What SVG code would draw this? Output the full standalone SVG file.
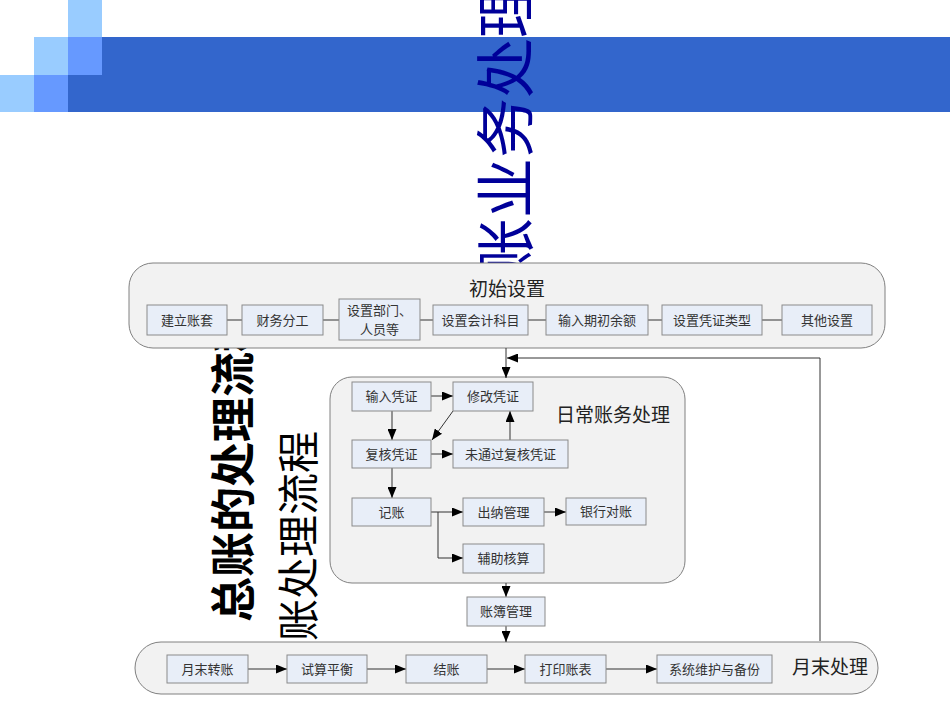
<svg xmlns="http://www.w3.org/2000/svg" width="950" height="713" viewBox="0 0 950 713">
<style>
.cont{fill:#f2f2f2;stroke:#808080;stroke-width:1}
.box{fill:#e8eef8;stroke:#8a8a8a;stroke-width:1}
.lbl{font-family:"Noto Sans CJK SC","Noto Sans",sans-serif;font-size:13px;fill:#333;text-anchor:middle}
.ttl{font-family:"Noto Sans CJK SC","Noto Sans",sans-serif;font-size:19px;fill:#222}
.ln{fill:none;stroke:#333;stroke-width:1}
.arr{fill:none;stroke:#333;stroke-width:1;marker-end:url(#ah)}
</style>
<defs>
<marker id="ah" markerUnits="userSpaceOnUse" markerWidth="12" markerHeight="9" refX="11" refY="4.5" orient="auto">
<path d="M0,0 L11,4.5 L0,9 z" fill="#000"/>
</marker>
</defs>
<rect width="950" height="713" fill="#fff"/>
<g id="header">
<rect x="68" y="37" width="882" height="75" fill="#3366cc"/>
<rect x="68" y="0" width="34" height="37" fill="#99ccff"/>
<rect x="34" y="37" width="34" height="38" fill="#99ccff"/>
<rect x="68" y="37" width="34" height="38" fill="#6699ff"/>
<rect x="0" y="75" width="34" height="37" fill="#99ccff"/>
<rect x="34" y="75" width="34" height="37" fill="#6699ff"/>
</g>
<g id="titles">
<text transform="translate(528,338) rotate(-90)" font-family="'Noto Sans CJK SC',sans-serif" font-size="60" fill="#000099">总账业务处理</text>
<text transform="translate(250,622) rotate(-90)" font-family="'Noto Sans CJK SC',sans-serif" font-size="45" font-weight="bold" fill="#000">总账的处理流程</text>
<text transform="translate(314,431) rotate(-90)" font-family="'Noto Sans CJK SC',sans-serif" font-size="42" text-anchor="end" fill="#000">总账处理流程</text>
</g>
<g id="setup">
<rect class="cont" x="129" y="263" width="756" height="85" rx="24"/>
<text class="ttl" x="507" y="296" text-anchor="middle">初始设置</text>
</g>
<g id="daily">
<rect class="cont" x="330" y="377" width="355" height="206" rx="22"/>
<text class="ttl" x="556" y="422">日常账务处理</text>
</g>
<g id="monthend">
<rect class="cont" x="135" y="642" width="743" height="52" rx="26"/>
<text class="ttl" x="792" y="674">月末处理</text>
</g>
<g id="connectors">
<path class="ln" d="M227,320H242M323,320H339M420,320H433M528,320H546M648,320H662M762,320H782"/>
<path class="arr" d="M506,348V378"/>
<path class="arr" d="M820,641V358H507"/>
<path class="arr" d="M431,396H453"/>
<path class="arr" d="M392,411V440"/>
<path class="arr" d="M453,411L432,440"/>
<path class="arr" d="M431,454H453"/>
<path class="arr" d="M510,440V411"/>
<path class="arr" d="M392,468V498"/>
<path class="arr" d="M431,512H463"/>
<path class="arr" d="M438,512V558H463"/>
<path class="arr" d="M544,512H566"/>
<path class="arr" d="M506,583V597"/>
<path class="arr" d="M506,626V642"/>
<path class="arr" d="M248,669H287"/>
<path class="arr" d="M367,669H406"/>
<path class="arr" d="M487,669H525"/>
<path class="arr" d="M606,669H657"/>
</g>
<g id="n-jlzt"><rect class="box" x="147" y="305" width="80" height="30"/><text class="lbl" x="187" y="324.5">建立账套</text></g>
<g id="n-cwfg"><rect class="box" x="242" y="305" width="81" height="30"/><text class="lbl" x="282.5" y="324.5">财务分工</text></g>
<g id="n-szbm"><rect class="box" x="339" y="299" width="81" height="41"/><text class="lbl" x="379.5" y="314.5" font-size="12">设置部门、</text><text class="lbl" x="379.5" y="333.5" font-size="12">人员等</text></g>
<g id="n-szkm"><rect class="box" x="433" y="305" width="95" height="30"/><text class="lbl" x="480.5" y="324.5">设置会计科目</text></g>
<g id="n-srqc"><rect class="box" x="546" y="305" width="102" height="30"/><text class="lbl" x="597" y="324.5">输入期初余额</text></g>
<g id="n-szpz"><rect class="box" x="662" y="305" width="100" height="30"/><text class="lbl" x="712" y="324.5">设置凭证类型</text></g>
<g id="n-qtsz"><rect class="box" x="782" y="305" width="90" height="30"/><text class="lbl" x="827" y="324.5">其他设置</text></g>
<g id="n-srpz"><rect class="box" x="352" y="382" width="79" height="29"/><text class="lbl" x="391.5" y="401">输入凭证</text></g>
<g id="n-xgpz"><rect class="box" x="453" y="382" width="80" height="29"/><text class="lbl" x="493" y="401">修改凭证</text></g>
<g id="n-fhpz"><rect class="box" x="352" y="440" width="79" height="28"/><text class="lbl" x="391.5" y="458.5">复核凭证</text></g>
<g id="n-wtg"><rect class="box" x="453" y="440" width="115" height="28"/><text class="lbl" x="510.5" y="458.5">未通过复核凭证</text></g>
<g id="n-jz"><rect class="box" x="352" y="498" width="79" height="28"/><text class="lbl" x="391.5" y="516.5">记账</text></g>
<g id="n-cngl"><rect class="box" x="463" y="498" width="81" height="28"/><text class="lbl" x="503.5" y="516.5">出纳管理</text></g>
<g id="n-yhdz"><rect class="box" x="566" y="498" width="80" height="27"/><text class="lbl" x="606" y="516">银行对账</text></g>
<g id="n-fzhs"><rect class="box" x="463" y="544" width="81" height="29"/><text class="lbl" x="503.5" y="563">辅助核算</text></g>
<g id="n-zbgl"><rect class="box" x="467" y="597" width="78" height="29"/><text class="lbl" x="506" y="616">账簿管理</text></g>
<g id="n-ymzz"><rect class="box" x="167" y="655" width="81" height="28"/><text class="lbl" x="207.5" y="673.5">月末转账</text></g>
<g id="n-sspz"><rect class="box" x="287" y="655" width="80" height="28"/><text class="lbl" x="327" y="673.5">试算平衡</text></g>
<g id="n-jiez"><rect class="box" x="406" y="655" width="81" height="28"/><text class="lbl" x="446.5" y="673.5">结账</text></g>
<g id="n-dyzb"><rect class="box" x="525" y="655" width="81" height="28"/><text class="lbl" x="565.5" y="673.5">打印账表</text></g>
<g id="n-xtwh"><rect class="box" x="657" y="655" width="115" height="28"/><text class="lbl" x="714.5" y="673.5">系统维护与备份</text></g>
</svg>
